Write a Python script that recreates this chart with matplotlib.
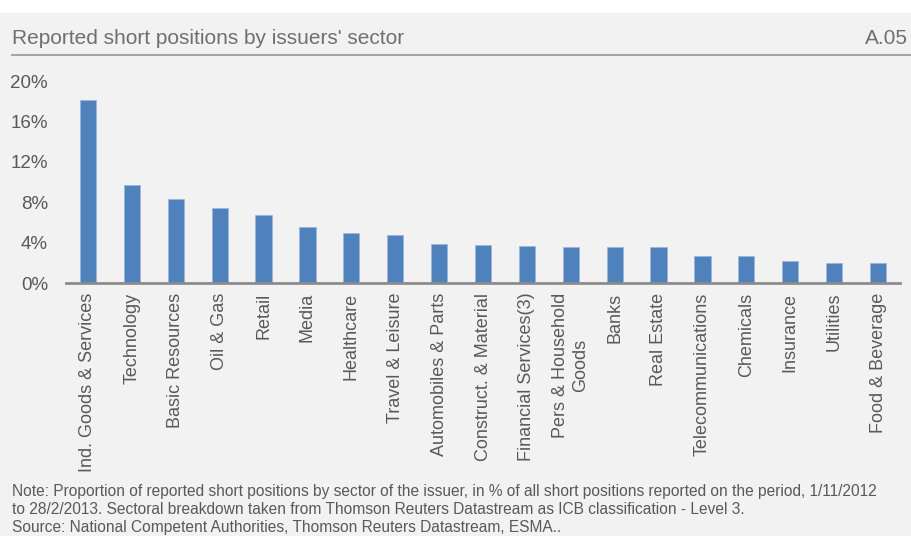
import matplotlib
matplotlib.use("Agg")
import matplotlib.pyplot as plt
from matplotlib.ticker import FuncFormatter

sectors = [
    "Ind. Goods & Services", "Technology", "Basic Resources", "Oil & Gas",
    "Retail", "Media", "Healthcare", "Travel & Leisure", "Automobiles & Parts",
    "Construct. & Material", "Financial Services(3)", "Pers & Household\nGoods",
    "Banks", "Real Estate", "Telecommunications", "Chemicals", "Insurance",
    "Utilities", "Food & Beverage",
]
share = [18.1, 9.7, 8.3, 7.4, 6.7, 5.5, 4.95, 4.8, 3.9, 3.8, 3.7, 3.6,
         3.6, 3.6, 2.7, 2.7, 2.2, 2.0, 1.95]
y_ticks = [0, 4, 8, 12, 16, 20]

font = "Liberation Sans"
grey_txt = "#595959"
bg = "#f2f2f2"
bar_col = "#4f81bd"

fig = plt.figure(figsize=(9.11, 5.36), dpi=100)
fig.patch.set_facecolor(bg)

# thin white strip at the very top, rule under the title
fig.add_artist(plt.Rectangle((0, 1 - 13 / 536), 1, 13 / 536, transform=fig.transFigure,
                             facecolor="white", edgecolor="none"))
fig.add_artist(plt.Line2D([12 / 911, 1], [1 - 55 / 536] * 2, transform=fig.transFigure,
                          color="#a6a6a6", lw=1.5))

fig.text(12 / 911, 1 - 39 / 536, "Reported short positions by issuers' sector",
         fontsize=15, color="#6f6f6f", family=font, va="center")
fig.text(908 / 911, 1 - 39 / 536, "A.05", fontsize=15, color="#6f6f6f",
         family=font, va="center", ha="right")

ax = fig.add_axes([66 / 911, 1 - 283 / 536, 834 / 911, 202 / 536])
ax.set_facecolor(bg)
x = range(len(sectors))
ax.bar(x, share, width=0.37, color=bar_col, edgecolor="#9bb7da", linewidth=0.6)
ax.set_xlim(-0.5, len(sectors) - 0.5)
ax.set_ylim(0, 20)
ax.set_yticks(y_ticks)
ax.yaxis.set_major_formatter(FuncFormatter(lambda v, p: f"{v:.0f}%"))
ax.set_xticks(list(x))
ax.set_xticklabels(sectors, rotation=90, va="top", ha="center", multialignment="center")
ax.tick_params(axis="both", length=0, colors=grey_txt)
ax.tick_params(axis="y", pad=13, labelsize=13.5)
ax.tick_params(axis="x", pad=7, labelsize=13)
for lab in ax.get_xticklabels() + ax.get_yticklabels():
    lab.set_family(font)
for side in ["top", "right", "left"]:
    ax.spines[side].set_visible(False)
ax.spines["bottom"].set_color("#8c8c8c")
ax.spines["bottom"].set_linewidth(2)

note = ("Note: Proportion of reported short positions by sector of the issuer, in % of all short "
        "positions reported on the period, 1/11/2012\n"
        "to 28/2/2013. Sectoral breakdown taken from Thomson Reuters Datastream as ICB "
        "classification - Level 3.\n"
        "Source: National Competent Authorities, Thomson Reuters Datastream, ESMA..")
fig.text(12 / 911, 1 - 484 / 536, note, fontsize=11.2, color=grey_txt, family=font,
         va="top", linespacing=1.25)

fig.savefig("out.png", dpi=100, facecolor=fig.get_facecolor())
